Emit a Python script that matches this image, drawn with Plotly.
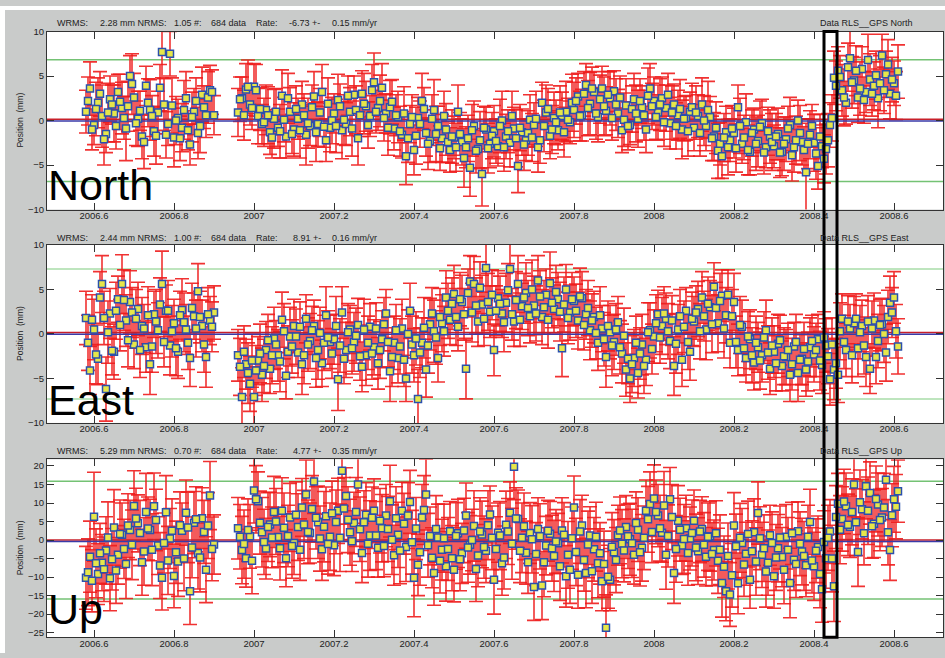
import plotly.graph_objects as go

# ---------------- data ----------------
epochs = [
    2006.58, 2006.59,
    2006.60, 2006.61, 2006.62, 2006.63, 2006.64, 2006.65, 2006.66, 2006.67, 2006.68, 2006.69,
    2006.70, 2006.71, 2006.72, 2006.73, 2006.74, 2006.75, 2006.76, 2006.77, 2006.78, 2006.79,
    2006.80, 2006.81, 2006.82, 2006.83, 2006.84, 2006.85, 2006.86, 2006.87, 2006.88, 2006.89,
    2006.90,
    2006.96, 2006.97, 2006.98, 2006.99,
    2007.00, 2007.01, 2007.02, 2007.03, 2007.04, 2007.05, 2007.06, 2007.07, 2007.08, 2007.09,
    2007.10, 2007.11, 2007.12, 2007.13, 2007.14, 2007.15, 2007.16, 2007.17, 2007.18, 2007.19,
    2007.20, 2007.21, 2007.22, 2007.23, 2007.24, 2007.25, 2007.26, 2007.27, 2007.28, 2007.29,
    2007.30, 2007.31, 2007.32, 2007.33, 2007.34, 2007.35, 2007.36, 2007.37, 2007.38, 2007.39,
    2007.40, 2007.41, 2007.42, 2007.43, 2007.44, 2007.45, 2007.46, 2007.47, 2007.48, 2007.49,
    2007.50, 2007.51, 2007.52, 2007.53, 2007.54, 2007.55, 2007.56, 2007.57, 2007.58, 2007.59,
    2007.60, 2007.61, 2007.62, 2007.63, 2007.64, 2007.65, 2007.66, 2007.67, 2007.68, 2007.69,
    2007.70, 2007.71, 2007.72, 2007.73, 2007.74, 2007.75, 2007.76, 2007.77, 2007.78, 2007.79,
    2007.80, 2007.81, 2007.82, 2007.83, 2007.84, 2007.85, 2007.86, 2007.87, 2007.88, 2007.89,
    2007.90, 2007.91, 2007.92, 2007.93, 2007.94, 2007.95, 2007.96, 2007.97, 2007.98, 2007.99,
    2008.00, 2008.01, 2008.02, 2008.03, 2008.04, 2008.05, 2008.06, 2008.07, 2008.08, 2008.09,
    2008.10, 2008.11, 2008.12, 2008.13, 2008.14, 2008.15, 2008.16, 2008.17, 2008.18, 2008.19,
    2008.20, 2008.21, 2008.22, 2008.23, 2008.24, 2008.25, 2008.26, 2008.27, 2008.28, 2008.29,
    2008.30, 2008.31, 2008.32, 2008.33, 2008.34, 2008.35, 2008.36, 2008.37, 2008.38, 2008.39,
    2008.40, 2008.41, 2008.42, 2008.43, 2008.44, 2008.45, 2008.46, 2008.47, 2008.48, 2008.49,
    2008.50, 2008.51, 2008.52, 2008.53, 2008.54, 2008.55, 2008.56, 2008.57, 2008.58, 2008.59,
    2008.60, 2008.61,
]
epochs_mid = [
    2006.585, 2006.595,
    2006.605, 2006.615, 2006.625, 2006.635, 2006.645, 2006.655, 2006.665, 2006.675, 2006.685, 2006.695,
    2006.705, 2006.715, 2006.725, 2006.735, 2006.745, 2006.755, 2006.765, 2006.775, 2006.785, 2006.795,
    2006.805, 2006.815, 2006.825, 2006.835, 2006.845, 2006.855, 2006.865, 2006.875, 2006.885, 2006.895,
    2006.965, 2006.975, 2006.985, 2006.995,
    2007.005, 2007.015, 2007.025, 2007.035, 2007.045, 2007.055, 2007.065, 2007.075, 2007.085, 2007.095,
    2007.105, 2007.115, 2007.125, 2007.135, 2007.145, 2007.155, 2007.165, 2007.175, 2007.185, 2007.195,
    2007.205, 2007.215, 2007.225, 2007.235, 2007.245, 2007.255, 2007.265, 2007.275, 2007.285, 2007.295,
    2007.305, 2007.315, 2007.325, 2007.335, 2007.345, 2007.355, 2007.365, 2007.375, 2007.385, 2007.395,
    2007.405, 2007.415, 2007.425, 2007.435, 2007.445, 2007.455, 2007.465, 2007.475, 2007.485, 2007.495,
    2007.505, 2007.515, 2007.525, 2007.535, 2007.545, 2007.555, 2007.565, 2007.575, 2007.585, 2007.595,
    2007.605, 2007.615, 2007.625, 2007.635, 2007.645, 2007.655, 2007.665, 2007.675, 2007.685, 2007.695,
    2007.705, 2007.715, 2007.725, 2007.735, 2007.745, 2007.755, 2007.765, 2007.775, 2007.785, 2007.795,
    2007.805, 2007.815, 2007.825, 2007.835, 2007.845, 2007.855, 2007.865, 2007.875, 2007.885, 2007.895,
    2007.905, 2007.915, 2007.925, 2007.935, 2007.945, 2007.955, 2007.965, 2007.975, 2007.985, 2007.995,
    2008.005, 2008.015, 2008.025, 2008.035, 2008.045, 2008.055, 2008.065, 2008.075, 2008.085, 2008.095,
    2008.105, 2008.115, 2008.125, 2008.135, 2008.145, 2008.155, 2008.165, 2008.175, 2008.185, 2008.195,
    2008.205, 2008.215, 2008.225, 2008.235, 2008.245, 2008.255, 2008.265, 2008.275, 2008.285, 2008.295,
    2008.305, 2008.315, 2008.325, 2008.335, 2008.345, 2008.355, 2008.365, 2008.375, 2008.385, 2008.395,
    2008.405, 2008.415, 2008.425, 2008.435, 2008.445, 2008.455, 2008.465, 2008.475, 2008.485, 2008.495,
    2008.505, 2008.515, 2008.525, 2008.535, 2008.545, 2008.555, 2008.565, 2008.575, 2008.585, 2008.595,
    2008.605,
]

north = [
    1.0, 3.6,
    -0.5, 2.0, 0.5, -1.5, 2.4, 0.8, 3.2, 1.4, -0.9, 5.0,
    2.6, 0.2, -1.8, 3.9, 1.2, -1.2, 0.9, 7.7, -1.6, 7.5,
    -1.9, 0.3, -0.8, 2.5, -2.7, 1.0, -1.4, 2.9, 0.6, 3.4,
    0.6,
    0.9, 2.5, 3.5, 1.8,
    3.8, 0.5, -0.4, 1.2, -1.3, 0.2, -0.8, 2.8, -1.8, 1.0,
    -1.0, 0.2, 1.8, -1.6, -0.6, 2.7, -0.4, 3.2, -2.2, -0.8,
    0.8, 2.3, -1.1, -0.4, 1.0, 2.9, -2.0, 3.0, 1.6, 0.5,
    4.3, 1.4, 3.7, 0.8, 1.5, -0.9, 0.4, -1.6, -4.0, -0.4,
    -3.3, 0.3, 2.2, -1.4, -2.3, 1.2, -0.6, -2.0, -1.0, -3.3,
    -1.9, 1.0, -2.4, -3.0, -5.3, -0.6, -3.2, -6.0, -1.0, -2.6,
    -1.2, -2.9, 0.0, -1.8, -2.5, -0.9, -5.1, -1.3, -2.2, 0.1,
    -0.5, -3.0, 2.0, 0.9, -1.7, 0.3, -1.1, 0.5, 1.0, -0.2,
    1.2, 2.7, 0.6, 4.0, 1.9, 3.2, 0.4, 3.6, 1.1, 2.5,
    3.3, 0.8, -1.1, 1.7, -0.5, 2.4, 0.2, 1.5, -1.0, 3.6,
    2.2, 0.9, 2.5, 1.4, -0.3, 1.8, 0.6, -1.0, 0.3, 1.0,
    -0.8, 0.5, 1.8, -0.6, 0.4, -1.8, -3.4, -4.0, -1.3, -2.2,
    -1.4, 1.5, -2.6, -0.2, -3.5, -1.0, -2.3, -0.3, -3.0, -1.8,
    -2.9, -1.5, -3.5, -2.1, -0.5, -3.0, 0.0, -2.4, -5.8, -1.6,
    -2.5, -5.1, -2.9, -3.2, -0.5, 4.8, 5.6, 3.4, 2.0, 7.0,
    4.5, 2.6, 5.8, 3.2, 4.6, 3.9, 2.5, 7.3, 5.2, 3.0,
    4.2, 5.5,
]
north_mid = [
    2.2, -1.0,
    1.3, 3.0, -2.1, 0.9, 1.8, -0.6, 2.1, 0.3, 1.6, 4.1,
    -0.3, 1.1, -2.4, 2.0, 0.5, -1.7, 3.7, 1.8, -0.4, 1.7,
    0.0, -2.0, 1.2, -1.1, 0.4, 2.2, -0.6, 1.5, 2.6, 3.2,
    2.4, 0.6, 3.8, 1.4,
    3.4, 1.3, -0.2, 0.6, -1.9, 1.0, -1.2, 0.1, 2.5, -1.5,
    1.3, -1.1, 0.6, -0.3, 1.5, -1.3, 0.9, -0.7, 1.9, 0.0,
    -0.6, 1.6, 0.1, 2.8, -0.9, 1.2, 0.6, 1.9, -0.5, 3.4,
    1.0, 2.2, 0.3, -0.8, 2.1, 0.6, -1.2, 0.8, -2.0, 0.4,
    -1.7, -0.4, 1.3, -2.6, 0.2, -1.5, -3.1, 0.5, -2.4, -1.8,
    -3.0, -1.5, -4.2, -2.0, -1.1, -3.4, -2.2, -0.8, -3.1, -1.7,
    -2.3, -0.6, -3.0, -1.2, 0.5, -2.0, -0.8, -2.7, -1.4, -1.9,
    0.2, -2.2, -0.6, 1.3, -1.0, -0.2, 0.9, -1.3, 0.1, 2.0,
    2.2, 0.5, 3.0, 1.4, 3.6, 0.8, 2.4, 1.6, 2.9, 0.3,
    1.8, 2.6, 0.1, -0.6, 1.3, 0.8, 2.2, 0.6, 2.8, 1.6,
    0.4, 1.8, -0.2, 2.9, 0.9, -0.6, 1.3, 0.2, -1.2, 1.5,
    0.9, -1.4, 0.0, 1.2, -2.0, -0.8, -2.6, -1.9, -3.0, -0.9,
    -3.1, -0.6, -1.9, -3.3, -1.4, -2.6, -0.7, -3.6, -1.2, -2.4,
    -1.8, -3.6, -2.6, -0.9, -3.9, -2.2, -1.4, -3.3, -2.6, -0.6,
    -3.7, -1.8, -4.3, -2.2, 0.3, 3.9, 4.9, 2.6, 6.0, 4.3,
    5.6, 3.6, 2.3, 6.8, 3.0, 5.1, 4.2, 3.4, 6.3, 4.6,
    2.8,
]
north_err = [
    2.4, 3.0,
    2.2, 2.8, 3.5, 2.1, 2.6, 3.2, 2.0, 2.9, 3.6, 2.3,
    2.7, 3.1, 2.5, 2.2, 3.4, 2.8, 2.4, 2.9, 2.6, 2.5,
    3.3, 2.1, 2.7, 3.0, 2.3, 2.6, 2.9, 3.1, 2.5, 2.8,
    2.2,
    2.7, 2.4, 2.9, 2.3,
    2.6, 3.1, 2.2, 2.8, 2.5, 3.3, 2.1, 2.9, 2.4, 2.7,
    3.0, 2.3, 2.6, 3.4, 2.2, 2.8, 2.5, 3.1, 2.4, 2.7,
    2.2, 2.9, 3.2, 2.4, 2.7, 2.1, 3.0, 2.6, 2.8, 2.3,
    3.3, 2.5, 2.7, 2.2, 3.0, 2.4, 2.9, 2.6, 3.2, 2.1,
    2.8, 2.3, 3.1, 2.6, 2.4, 3.4, 2.2, 2.7, 2.9, 2.5,
    2.4, 3.0, 2.6, 2.3, 3.2, 2.8, 2.1, 3.6, 2.5, 2.7,
    2.9, 2.2, 3.3, 2.5, 2.7, 2.4, 3.0, 2.6, 2.3, 2.8,
    2.5, 2.8, 2.3, 3.1, 2.6, 2.9, 2.2, 2.7, 3.4, 2.4,
    3.1, 2.6, 2.9, 2.4, 3.5, 2.3, 2.8, 2.5, 2.7, 3.0,
    2.3, 2.7, 2.5, 3.0, 2.2, 2.9, 3.2, 2.4, 2.6, 2.8,
    2.7, 3.1, 2.4, 2.6, 2.9, 2.3, 2.8, 3.3, 2.5, 2.2,
    2.6, 2.4, 3.0, 2.8, 2.3, 2.7, 3.1, 2.5, 2.9, 2.4,
    2.8, 2.5, 2.2, 3.2, 2.6, 2.4, 2.9, 2.7, 2.3, 3.0,
    2.4, 2.9, 2.7, 2.5, 3.1, 2.8, 2.3, 2.6, 5.5, 2.7,
    3.2, 2.6, 2.4, 2.8, 2.5, 3.0, 2.7, 2.9, 2.4, 3.1,
    2.6, 2.8, 2.5, 2.3, 2.9, 2.7, 3.3, 2.4, 2.6, 2.8,
    2.5, 3.0,
]
north_mid_err = [
    2.7, 2.3,
    3.0, 2.5, 2.9, 3.3, 2.2, 2.6, 3.1, 2.4, 2.8, 3.4,
    2.5, 2.2, 3.0, 2.7, 2.3, 3.2, 2.6, 2.9, 2.4, 3.1,
    2.7, 2.5, 3.3, 2.2, 2.8, 2.6, 3.0, 2.4, 2.9, 2.5,
    2.5, 2.8, 3.0, 2.4,
    2.9, 2.4, 2.7, 3.2, 2.3, 2.6, 3.0, 2.5, 2.8, 2.2,
    2.6, 3.1, 2.4, 2.8, 2.5, 3.3, 2.7, 2.3, 2.9, 2.6,
    3.0, 2.5, 2.8, 2.2, 3.1, 2.7, 2.4, 3.4, 2.6, 2.9,
    2.4, 2.9, 2.6, 3.1, 2.5, 2.3, 2.8, 3.0, 2.7, 2.5,
    3.2, 2.6, 2.4, 2.9, 2.7, 3.1, 2.5, 2.8, 2.3, 3.0,
    2.7, 2.4, 3.3, 2.6, 2.9, 2.5, 3.2, 2.4, 2.8, 2.6,
    2.5, 3.0, 2.7, 2.4, 2.8, 3.2, 2.6, 2.9, 2.5, 2.7,
    3.1, 2.6, 2.9, 2.3, 2.7, 2.5, 3.0, 2.8, 2.4, 3.2,
    2.6, 2.8, 2.5, 3.1, 2.4, 2.9, 2.7, 3.3, 2.6, 2.5,
    2.9, 2.4, 3.0, 2.7, 2.6, 3.2, 2.5, 2.8, 3.1, 2.6,
    2.5, 2.9, 2.7, 2.4, 3.0, 2.6, 3.3, 2.5, 2.8, 2.7,
    3.0, 2.6, 2.8, 3.2, 2.5, 2.9, 2.4, 2.7, 3.1, 2.6,
    2.7, 3.1, 2.5, 2.8, 2.6, 3.0, 2.9, 2.4, 2.7, 3.2,
    2.6, 2.8, 3.0, 2.5, 2.9, 2.7, 3.1, 2.6, 2.8, 2.4,
    2.9, 2.5, 2.7, 3.0, 2.6, 2.8, 2.4, 3.2, 2.7, 2.9,
    2.8, 3.0, 2.6, 2.9, 2.5, 2.7, 3.1, 2.6, 2.8, 2.5,
    2.7,
]

east = [
    1.8, -4.1,
    0.5, -2.8, 5.6, -6.2, 2.3, -2.0, 3.9, 5.6, 1.5, 3.6,
    -1.2, 2.8, 0.9, -1.5, -3.4, 2.2, 0.4, 5.6, 2.6, -1.3,
    1.2, -2.0, 2.7, 0.5, -2.7, 2.0, 4.8, 0.9, -2.6, 1.5,
    2.4,
    -2.4, -7.1, -3.4, -5.6,
    -7.1, -3.0, -4.6, -1.8, -3.9, -0.5, -2.4, 1.6, -4.7, -0.3,
    0.9, -2.1, -3.4, 1.7, -0.8, 0.9, -1.8, -3.3, 2.1, -0.9,
    -0.6, -5.1, 2.4, -1.8, 0.5, -0.9, 1.0, -3.7, -2.4, 0.8,
    -1.5, -3.3, -0.6, 2.3, -4.2, -1.0, -2.7, 0.6, -5.0, 2.6,
    -2.4, -7.3, -1.0, -4.0, 1.1, 0.3, -2.7, 1.2, 4.1, 1.6,
    4.5, 0.8, 3.6, -3.9, 5.9, 5.6, 1.4, 3.3, 7.4, 2.5,
    -1.8, 4.0, 2.3, 3.5, 7.3, 1.4, 5.6, 3.1, 4.6, 2.0,
    3.2, 6.0, 1.9, 4.4, 5.7, 2.8, 3.9, -1.6, 5.0, 2.4,
    3.7, 1.5, 4.0, 2.2, 0.4, 1.9, -1.0, 0.6, -2.6, 0.2,
    -0.9, 1.3, -2.2, -4.0, -5.0, -2.7, -4.4, -1.2, -2.9, 0.4,
    -0.3, 2.2, 0.9, 1.7, -0.8, -3.6, 0.5, -2.9, 2.6, -2.0,
    1.4, 2.8, 4.1, 0.5, 3.0, 5.3, 1.2, 4.3, 2.1, -1.0,
    3.6, -1.8, 0.8, -2.7, -0.6, -3.2, -1.5, -2.4, 0.4, -3.9,
    -2.0, -1.1, -3.6, -2.6, -4.6, -1.4, -4.4, -2.8, -4.0, -1.5,
    -2.3, -0.6, -3.5, -1.3, -5.1, -4.0, -4.6, 1.7, -1.8, 0.6,
    1.2, -1.6, 0.9, -2.6, -3.9, 1.5, -0.8, 1.1, -2.1, 3.5,
    4.1, -1.4,
]
east_mid = [
    -1.0, 1.6,
    -2.3, 4.1, 1.8, 0.2, -1.9, 2.6, 1.0, 3.8, -0.7, 2.4,
    1.7, -1.8, 0.6, 2.1, -1.4, 1.4, 3.3, -0.9, 2.6, 0.3,
    -1.6, 2.1, 1.3, -1.0, 2.9, 0.6, 1.9, -1.2, 2.2, 0.8,
    -3.7, -2.0, -4.4, -3.0,
    -4.1, -2.2, -3.6, -0.7, -2.4, -1.2, -3.1, 0.3, -2.0, -1.4,
    -0.3, 0.8, -2.4, -1.2, 0.4, -2.7, 0.1, -1.0, -0.4, -2.2,
    0.9, -1.3, -2.8, 0.2, -1.6, -0.2, -2.5, 0.5, -1.0, -2.2,
    0.6, -1.8, 1.1, -0.9, -2.6, 0.4, -1.4, -2.9, 0.0, -1.2,
    -0.5, -2.1, 0.7, -1.3, 2.3, -0.4, 1.9, 0.3, 2.6, 3.4,
    1.9, 3.9, 2.2, 4.6, 2.4, 3.2, 5.2, 1.7, 3.6, 4.4,
    2.6, 3.4, 1.3, 4.9, 2.2, 3.8, 1.6, 4.1, 2.9, 5.0,
    2.3, 4.2, 3.0, 1.6, 3.5, 4.7, 2.5, 3.3, 1.8, 3.9,
    2.6, 4.2, 1.0, 2.9, 1.5, 0.1, 2.1, -0.6, 0.9, -1.3,
    0.5, -1.5, -0.2, -2.8, -3.4, -1.0, -2.2, -3.6, 0.2, -1.7,
    1.2, -0.4, 2.3, 0.3, 1.5, -1.1, 2.0, 0.8, -0.9, 1.7,
    2.4, 0.3, 2.0, 3.4, 1.1, 2.9, 3.7, 0.6, 4.4, 2.0,
    -0.9, 1.0, -1.6, -0.3, -2.4, -1.0, -3.0, -0.4, -2.1, -1.3,
    -3.3, -0.7, -2.5, -1.8, -3.4, -0.9, -2.9, -1.7, -3.1, -0.8,
    -1.8, -3.0, -0.4, -2.5, -1.2, -3.3, 0.3, -0.9, 1.4, -2.4,
    1.7, 0.2, -1.3, 1.4, 0.6, -2.6, 1.0, 0.0, 1.9, 2.4,
    0.3,
]
east_err = [
    3.0, 2.7,
    3.4, 2.9, 3.2, 3.6, 2.8, 3.1, 2.6, 3.3, 2.9, 3.5,
    2.7, 3.0, 3.2, 2.8, 3.4, 2.6, 3.1, 3.7, 2.9, 3.3,
    2.7, 3.0, 3.5, 2.8, 3.2, 2.6, 3.1, 2.9, 3.4, 2.7,
    3.0,
    2.9, 3.3, 2.8, 3.1,
    3.4, 2.7, 3.0, 3.2, 2.8, 3.5, 2.9, 3.1, 2.6, 3.3,
    3.0, 2.8, 3.4, 2.7, 3.1, 2.9, 3.3, 2.6, 3.2, 3.0,
    2.8, 3.5, 2.9, 3.1, 2.7, 3.3, 3.0, 2.8, 3.4, 2.6,
    3.1, 2.9, 3.2, 2.7, 3.4, 3.0, 2.8, 3.3, 2.6, 3.1,
    3.0, 3.3, 2.8, 3.1, 2.9, 3.5, 2.7, 3.2, 3.0, 2.8,
    3.2, 2.7, 3.0, 3.4, 2.9, 3.1, 2.8, 3.3, 3.6, 2.9,
    2.9, 3.1, 2.7, 3.3, 3.0, 2.8, 3.2, 2.6, 3.4, 3.0,
    3.3, 2.8, 3.1, 2.9, 3.5, 2.7, 3.0, 3.2, 2.8, 3.1,
    2.7, 3.2, 3.0, 2.8, 3.3, 2.9, 3.1, 2.6, 3.4, 3.0,
    3.1, 2.9, 3.3, 3.0, 2.7, 3.2, 2.8, 3.4, 2.9, 3.1,
    3.0, 2.7, 3.2, 2.9, 3.1, 3.3, 2.8, 3.0, 2.6, 3.2,
    2.8, 3.1, 2.9, 3.4, 3.0, 2.7, 3.2, 2.9, 3.1, 2.8,
    3.2, 2.9, 3.0, 2.7, 3.3, 3.1, 2.8, 3.0, 3.4, 2.9,
    2.9, 3.3, 2.8, 3.1, 3.0, 2.7, 3.2, 2.9, 3.0, 3.3,
    3.1, 2.8, 3.2, 3.0, 2.9, 3.4, 3.1, 2.8, 3.0, 2.7,
    3.0, 3.2, 2.9, 3.3, 2.8, 3.1, 3.0, 2.9, 3.2, 3.0,
    2.9, 3.1,
]
east_mid_err = [
    3.1, 2.8,
    3.3, 2.9, 3.0, 3.5, 2.7, 3.2, 2.9, 3.4, 3.0, 2.8,
    3.3, 3.1, 2.7, 3.2, 2.9, 3.6, 3.0, 2.8, 3.4, 2.9,
    3.1, 2.7, 3.3, 3.0, 2.8, 3.2, 2.9, 3.1, 3.0, 2.8,
    3.2, 2.9, 3.4, 3.0,
    2.8, 3.3, 3.0, 2.9, 3.2, 2.7, 3.4, 3.1, 2.9, 3.0,
    3.1, 2.8, 3.2, 3.0, 2.7, 3.3, 2.9, 3.1, 3.0, 2.8,
    3.3, 3.0, 2.8, 3.2, 2.9, 3.1, 2.7, 3.4, 3.0, 2.9,
    2.9, 3.2, 3.0, 2.8, 3.3, 2.9, 3.1, 3.0, 2.7, 3.2,
    3.0, 2.8, 3.4, 3.1, 2.9, 3.0, 3.2, 2.8, 3.1, 2.9,
    3.2, 3.0, 2.9, 2.7, 3.3, 3.1, 2.9, 3.0, 3.2, 2.8,
    2.8, 3.1, 3.3, 3.0, 2.9, 3.2, 3.0, 2.7, 3.1, 3.3,
    3.1, 2.9, 3.0, 3.2, 2.8, 3.0, 3.3, 3.1, 2.9, 3.0,
    3.0, 3.2, 2.8, 3.1, 3.0, 2.9, 3.2, 3.0, 2.8, 3.4,
    2.9, 3.0, 3.1, 2.8, 3.2, 3.0, 2.9, 3.1, 3.3, 2.8,
    3.2, 2.9, 3.0, 3.1, 2.8, 3.3, 3.0, 2.9, 3.1, 3.0,
    3.0, 3.1, 2.8, 3.0, 3.2, 2.9, 3.1, 3.3, 2.8, 3.0,
    2.9, 3.2, 3.0, 2.8, 3.1, 3.0, 3.2, 2.9, 3.0, 3.1,
    3.1, 2.8, 3.2, 3.0, 2.9, 3.1, 2.8, 3.0, 3.3, 2.9,
    3.0, 3.3, 2.9, 3.1, 3.0, 2.8, 3.2, 3.0, 2.9, 3.1,
    2.8, 3.0, 3.2, 2.9, 3.1, 3.0, 2.9, 3.2, 3.0, 2.8,
    3.0,
]

up = [
    -10.2, -4.5,
    6.3, -9.2, -6.1, -2.8, -10.3, 3.4, -4.0, 1.4, -6.5, 2.7,
    9.2, 4.5, -6.0, 7.6, 2.7, 9.1, -1.5, -10.2, 7.5, 0.4,
    -9.7, -5.8, 2.5, 7.4, -13.8, 4.7, -3.5, 5.9, -8.0, 12.0,
    -1.2,
    3.2, -2.7, -4.9, 1.0,
    13.4, 10.5, 2.1, -2.3, 4.2, 7.6, 0.8, 7.9, -4.9, 6.1,
    -0.8, 3.5, 8.8, 12.3, 1.9, 15.8, 4.8, -2.5, 6.4, 0.9,
    -1.4, 7.9, 18.7, 11.9, 2.1, 4.6, 15.0, -3.5, 6.8, 1.2,
    7.9, -2.1, 3.2, 6.6, 10.5, -4.1, 1.4, 7.9, -1.9, 10.3,
    -10.2, -6.7, 6.1, 12.3, 1.1, -8.9, 0.7, -2.6, -7.1, 2.4,
    -8.0, 1.8, -3.6, 6.6, -1.3, 3.8, -4.2, 1.5, -2.9, 6.9,
    -10.7, 2.0, -6.3, 4.1, 7.4, 19.8, 5.7, 0.6, -3.4, 1.9,
    -12.7, 3.0, -12.3, -1.5, 1.7, -4.3, -0.9, 2.6, -9.8, -8.0,
    8.8, -9.4, 3.9, -8.9, 1.2, -2.5, -6.3, -11.1, -23.7, -10.7,
    -3.3, 1.3, -1.0, 3.5, 0.2, -4.0, 2.8, -2.1, 7.9, 9.7,
    11.2, 6.6, 2.0, -4.0, 11.0, -8.9, 5.2, -1.5, 3.2, 0.4,
    5.2, -3.0, 3.0, -4.5, 1.0, -2.7, -5.6, -11.6, -13.8, -14.7,
    3.9, -11.7, -0.8, -3.7, -10.7, 2.1, 7.3, -4.0, -8.5, 1.3,
    -9.8, -2.2, -4.6, 0.9, -11.6, -5.3, 2.4, -3.1, -6.8, 4.9,
    -7.1, -1.9, -13.3, -4.9, 2.3, -12.5, 9.8, 5.7, 9.1, 3.6,
    15.0, -3.2, 8.3, 14.5, 12.7, 4.4, 9.6, 6.1, 16.3, -2.7,
    11.0, 13.2,
]
up_mid = [
    -8.7, -11.0,
    -6.3, -3.6, -7.9, 0.7, -5.2, -8.2, 1.6, -2.4, 3.9, -1.3,
    5.8, 1.9, -3.1, 3.1, -2.6, 5.4, -6.9, -0.8, -5.5, 2.5,
    -3.3, 4.0, -5.0, 3.4, -2.0, 5.6, -4.7, 2.2, 3.9, -2.4,
    0.9, -1.1, 2.7, -5.6,
    11.0, 4.7, -0.5, 3.5, 0.7, 5.0, -2.2, 3.3, 1.1, -1.6,
    6.8, -2.6, 4.2, 2.2, 8.4, 6.0, 0.4, 3.6, -1.1, 7.2,
    4.9, 0.6, 8.5, 5.5, -0.3, 7.6, 2.9, 4.8, -1.0, 6.0,
    1.2, 5.2, -1.6, 3.0, 0.1, 5.9, -2.8, 4.4, 6.6, -0.6,
    3.1, -3.3, 8.1, -1.4, -4.8, 3.0, -5.6, 0.5, -2.4, -4.9,
    1.1, -5.2, 2.6, -2.0, 0.0, -7.8, 2.3, -1.9, 4.0, 0.6,
    -2.4, 1.2, -4.7, 2.3, -1.0, 5.8, -2.9, 3.7, -6.0, 0.2,
    -3.8, 1.0, -6.0, 2.5, -2.2, -0.4, -7.1, 1.4, -4.0, 0.5,
    -3.2, 2.3, -5.4, -1.2, -8.4, 0.9, -3.6, -6.5, -9.9, -1.8,
    -5.4, 2.6, -2.8, 1.0, -0.9, 4.6, -3.3, 0.6, 5.6, 2.2,
    7.6, 3.2, 9.3, 1.1, 6.2, -2.4, 2.8, 0.3, -3.5, 1.9,
    -2.0, 2.3, -1.3, 0.9, -3.8, 1.8, -2.6, -7.2, -4.3, -9.5,
    -1.7, 0.6, -6.6, 1.6, -3.0, -5.8, 0.5, -2.2, -6.1, -0.8,
    -4.7, 0.7, -8.0, -2.6, 1.8, -6.5, -1.0, -4.3, 0.9, -5.5,
    -2.9, -9.2, -0.5, 0.6, -5.0, 6.2, 2.8, 10.4, 4.1, 7.6,
    4.8, 10.2, 1.8, 7.9, 3.7, 11.1, 5.4, 8.8, 2.1, 6.7,
    9.0,
]
up_err = [
    8.5, 9.6,
    12.0, 8.2, 7.6, 9.1, 8.8, 10.2, 7.9, 8.6, 9.3, 8.0,
    9.5, 7.7, 8.9, 10.4, 8.3, 9.0, 7.8, 8.7, 9.9, 8.1,
    8.6, 9.4, 7.5, 8.8, 9.0, 8.4, 9.7, 8.2, 8.9, 9.2,
    8.0,
    8.3, 9.1, 7.8, 8.6,
    8.8, 7.9, 9.4, 8.2, 8.7, 9.6, 8.0, 8.9, 7.7, 9.2,
    8.5, 9.0, 7.8, 9.3, 8.1, 8.6, 9.8, 8.4, 7.9, 9.1,
    8.2, 8.8, 9.5, 7.6, 8.9, 8.3, 9.2, 8.0, 8.7, 9.4,
    8.6, 7.9, 9.1, 8.4, 9.7, 8.1, 8.8, 7.7, 9.3, 8.5,
    10.5, 8.3, 8.9, 9.6, 7.8, 8.7, 9.0, 8.2, 9.4, 8.0,
    8.7, 9.2, 8.1, 8.8, 7.9, 9.5, 8.4, 9.0, 8.6, 7.7,
    9.3, 8.0, 8.6, 9.1, 8.3, 8.9, 7.8, 9.4, 8.5, 8.2,
    9.0, 8.4, 9.2, 7.9, 8.7, 9.6, 8.1, 8.8, 8.3, 9.1,
    8.5, 9.0, 8.2, 9.4, 7.8, 8.6, 9.3, 8.0, 8.9, 8.4,
    8.8, 8.1, 9.2, 8.5, 9.7, 7.9, 8.6, 9.0, 8.3, 8.7,
    9.1, 8.4, 8.0, 9.3, 8.6, 8.2, 9.5, 7.8, 8.9, 8.5,
    8.3, 9.0, 8.7, 7.9, 9.4, 8.1, 8.8, 9.2, 8.0, 8.6,
    8.9, 8.2, 9.3, 8.5, 7.7, 9.0, 8.4, 8.8, 9.6, 8.1,
    8.6, 9.1, 8.0, 8.7, 9.4, 8.3, 7.9, 9.0, 8.5, 8.8,
    9.2, 8.4, 8.9, 8.1, 8.6, 9.5, 8.2, 8.7, 9.0, 8.3,
    8.7, 9.3, 8.0, 8.8, 8.4, 9.1, 8.5, 7.8, 9.6, 8.2,
    8.9, 8.4,
]
up_mid_err = [
    9.0, 8.4,
    9.3, 8.1, 8.7, 9.6, 8.3, 8.9, 9.2, 8.0, 8.6, 9.4,
    8.2, 8.8, 9.1, 8.5, 9.7, 8.3, 8.9, 8.1, 9.2, 8.6,
    8.4, 9.0, 8.7, 9.5, 8.2, 8.8, 9.3, 8.5, 8.9, 8.6,
    8.7, 9.2, 8.4, 8.9,
    9.1, 8.5, 8.8, 9.3, 8.2, 8.9, 8.6, 9.4, 8.3, 8.7,
    8.9, 8.3, 9.2, 8.6, 9.0, 8.4, 8.8, 9.5, 8.1, 8.7,
    8.6, 9.1, 8.4, 8.9, 8.2, 9.3, 8.7, 8.5, 9.0, 8.3,
    9.2, 8.7, 8.3, 8.8, 9.4, 8.5, 9.0, 8.2, 8.9, 8.6,
    8.4, 8.9, 9.3, 8.6, 8.1, 9.0, 8.7, 9.2, 8.5, 8.8,
    9.0, 8.5, 8.7, 9.4, 8.3, 8.8, 9.1, 8.4, 9.3, 8.6,
    8.7, 9.2, 8.5, 8.9, 9.6, 8.3, 8.6, 9.0, 8.4, 9.1,
    8.5, 8.8, 9.3, 8.2, 8.9, 8.6, 9.2, 8.7, 9.0, 8.4,
    9.1, 8.6, 8.4, 9.0, 8.7, 9.3, 8.3, 8.9, 8.5, 9.2,
    8.8, 9.0, 8.5, 8.7, 9.2, 8.4, 9.1, 8.6, 8.9, 8.3,
    8.6, 8.9, 9.2, 8.4, 8.8, 9.0, 8.5, 9.3, 8.7, 8.9,
    9.0, 8.4, 8.7, 9.1, 8.5, 8.8, 9.4, 8.3, 8.9, 8.6,
    8.7, 9.3, 8.6, 8.9, 8.2, 9.1, 8.5, 9.0, 8.8, 8.4,
    8.9, 8.5, 9.2, 8.7, 8.4, 9.0, 8.6, 9.3, 8.5, 8.8,
    8.6, 9.1, 8.4, 8.8, 9.0, 8.5, 9.2, 8.7, 8.3, 8.9,
    9.0, 8.7, 8.5, 9.1, 8.6, 8.9, 8.3, 9.2, 8.8, 8.5,
    8.7,
]

component_names = ["North", "East", "Up"]
wrms = ["2.28", "2.44", "5.29"]
nrms = ["1.05", "1.00", "0.70"]
n_data = ["684", "684", "684"]
rates = ["-6.73", "8.91", "4.77"]
rate_sigmas = ["0.15", "0.16", "0.35"]
limit_lines = [6.84, 7.3, 15.9]          # +/- green bounds
model_red = [0.15, 0.15, 0.0]            # red reference line
model_blue = [-0.05, -0.05, -0.4]        # blue reference line
y_ranges = [[-10, 10], [-10, 10], [-26.25, 21.8]]
y_tick_vals = [[10, 5, 0, -5, -10], [10, 5, 0, -5, -10],
               [20, 15, 10, 5, 0, -5, -10, -15, -20, -25]]
x_tick_vals = [2006.6, 2006.8, 2007.0, 2007.2, 2007.4, 2007.6, 2007.8,
               2008.0, 2008.2, 2008.4, 2008.6]
x_tick_text = ["2006.6", "2006.8", "2007", "2007.2", "2007.4", "2007.6",
               "2007.8", "2008", "2008.2", "2008.4", "2008.6"]
x_range = [2006.4825, 2008.7225]
marked_window = [2008.425, 2008.4575]

series = [north, east, up]
errors = [north_err, east_err, up_err]
series_mid = [north_mid, east_mid, up_mid]
errors_mid = [north_mid_err, east_mid_err, up_mid_err]
for s, e in zip(series, errors):
    assert len(s) == len(epochs) == len(e), (len(s), len(e), len(epochs))
for s, e in zip(series_mid, errors_mid):
    assert len(s) == len(epochs_mid) == len(e), (len(s), len(e), len(epochs_mid))

# ---------------- layout helpers ----------------
W, H = 945, 658
def px(x):
    return x / W
def py(y):
    return 1 - y / H

panel_px = [(26, 207), (243, 424), (461, 642)]   # top, bottom in pixels
title_y = [17, 235.5, 453]
big_label_y = [182, 401, 613]

FONT = "Liberation Sans, Arial, sans-serif"
GRAY = "#c9cbca"
RED = "rgba(238,28,28,0.9)"
YELLOW = "#e6e64a"
BLUE = "#2b50ad"
GREENS = ["#74c274", "#a9dca9", "#74c274"]

fig = go.Figure()

for i in range(3):
    xa = "x" if i == 0 else f"x{i+1}"
    ya = "y" if i == 0 else f"y{i+1}"
    lim = limit_lines[i]
    common = dict(xaxis=xa, yaxis=ya, showlegend=False, hoverinfo="skip")
    for v in (lim, -lim):
        fig.add_trace(go.Scatter(x=x_range, y=[v, v], mode="lines",
                                 line=dict(color=GREENS[i], width=1.5), **common))
    for ex, ey, ee in ((epochs, series[i], errors[i]), (epochs_mid, series_mid[i], errors_mid[i])):
        fig.add_trace(go.Scatter(x=ex, y=ey, mode="markers",
                                 marker=dict(size=1, color="rgba(0,0,0,0)"),
                                 error_y=dict(type="data", array=ee, visible=True,
                                              color=RED, thickness=1.6, width=7),
                                 **common))
    fig.add_trace(go.Scatter(x=x_range, y=[model_red[i]] * 2, mode="lines",
                             line=dict(color="#c8202a", width=1.5), **common))
    fig.add_trace(go.Scatter(x=x_range, y=[model_blue[i]] * 2, mode="lines",
                             line=dict(color="#3a3aa8", width=1.5), **common))
    for ex, ey in ((epochs, series[i]), (epochs_mid, series_mid[i])):
        fig.add_trace(go.Scatter(x=ex, y=ey, mode="markers",
                                 marker=dict(symbol="square", size=7, color=YELLOW,
                                             line=dict(color=BLUE, width=1.5)),
                                 xaxis=xa, yaxis=ya, showlegend=False,
                                 name=component_names[i]))

layout = dict(
    width=W, height=H,
    margin=dict(l=0, r=0, t=0, b=0),
    paper_bgcolor=GRAY, plot_bgcolor="white",
    showlegend=False,
    font=dict(family=FONT, size=9.5, color="#222"),
)
axis_common = dict(showline=True, linecolor="#333", linewidth=1, mirror="ticks",
                   ticks="inside", ticklen=7, tickcolor="#333", showgrid=False,
                   zeroline=False, tickfont=dict(family=FONT, size=9.5, color="#222"))
for i in range(3):
    top, bot = panel_px[i]
    xk = "xaxis" if i == 0 else f"xaxis{i+1}"
    yk = "yaxis" if i == 0 else f"yaxis{i+1}"
    ya = "y" if i == 0 else f"y{i+1}"
    xa = "x" if i == 0 else f"x{i+1}"
    layout[xk] = dict(axis_common, domain=[px(47), px(943)], range=x_range,
                      tickvals=x_tick_vals, ticktext=x_tick_text, anchor=ya,
                      ticklabelstandoff=-3)
    layout[yk] = dict(axis_common, domain=[py(bot), py(top)], range=y_ranges[i],
                      tickvals=y_tick_vals[i], anchor=xa)

annotations = []
def txt(x, y, s, size=9, anchor="left", color="#222", **kw):
    annotations.append(dict(x=px(x), y=py(y), xref="paper", yref="paper", text=s,
                            showarrow=False, xanchor=anchor, yanchor="middle",
                            font=dict(family=FONT, size=size, color=color), **kw))

for i in range(3):
    ty = title_y[i]
    rate_x = 287 if rates[i].startswith("-") else 290.7
    txt(55, ty, "WRMS:")
    txt(97.7, ty, f"{wrms[i]} mm NRMS:")
    txt(172, ty, f"{nrms[i]} #:")
    txt(209, ty, f"{n_data[i]} data")
    txt(254, ty, "Rate:")
    txt(rate_x, ty, f"{rates[i]} +-")
    txt(330, ty, f"{rate_sigmas[i]} mm/yr")
    txt(818, ty, f"Data RLS__GPS {component_names[i]}")
    top, bot = panel_px[i]
    txt(20, (top + bot) / 2, "Position  (mm)", size=8.5, anchor="center", textangle=-90)
    txt(46, big_label_y[i], component_names[i], size=43, color="#000")

layout["annotations"] = annotations
layout["shapes"] = [
    dict(type="rect", xref="paper", yref="paper", x0=0, x1=px(5), y0=0, y1=1,
         fillcolor="white", line=dict(width=0), layer="below"),
    dict(type="rect", xref="paper", yref="paper", x0=0, x1=1, y0=py(4), y1=1,
         fillcolor="white", line=dict(width=0), layer="below"),
    dict(type="rect", xref="x", yref="paper", x0=marked_window[0], x1=marked_window[1],
         y0=py(642), y1=py(26), line=dict(color="black", width=3),
         fillcolor="rgba(0,0,0,0)", layer="above"),
]

fig.update_layout(**layout)
fig.write_html("out.html",
               config={"displayModeBar": False, "staticPlot": True},
               post_script="document.body.style.margin='0px';document.body.style.overflow='hidden';")
